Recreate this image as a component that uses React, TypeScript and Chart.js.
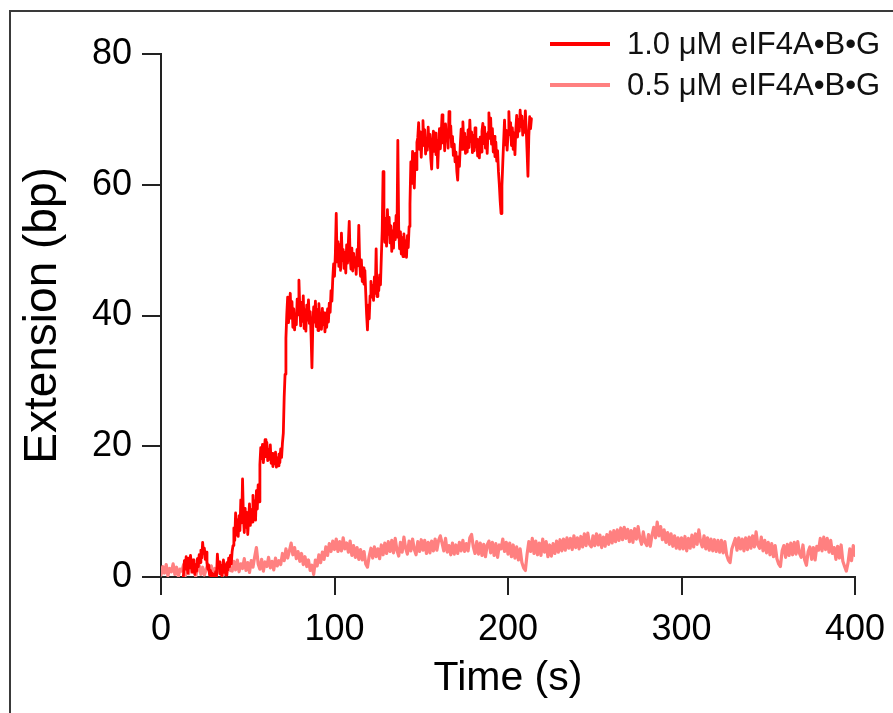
import { useEffect, useRef } from "react";
import { Chart, registerables } from "chart.js";

Chart.register(...registerables);

// ---------- data ----------
const X_TICKS = [0, 100, 200, 300, 400];
const Y_TICKS = [0, 20, 40, 60, 80];
const SERIES_LABELS = ["1.0 \u03bcM eIF4A\u2022B\u2022G", "0.5 \u03bcM eIF4A\u2022B\u2022G"];
const X_TITLE = "Time (s)";
const Y_TITLE = "Extension (bp)";

// 1.0 uM trace, sampled every 0.5 s
const RED_DT = 0.5;
const redRise = [
  -1.2, -0.8, -1.5, -1.0, -0.6, -1.3, -1.1, -0.7, -1.4, -0.9, -1.2, -0.6, -1.0, -1.5, -0.8, -1.1, -0.7, -1.3, -0.9, -1.2, -0.5, -1.0, -1.4, -0.8, -0.6, -1.1,
  0.5, 2.5, 1.2, 3.1, 1.8, 0.6, 2.9, 1.4, 3.3, 2.0, 0.8, 2.6, 1.5, 0.4, 1.9, 0.9, 2.8, 1.6, 3.4, 2.2, 4.1, 2.9, 5.3, 3.6, 4.4, 2.7, 3.8, 2.1, 1.2,
  1.8, 0.3, 1.0, -0.2, 0.6, -0.4, 0.4, -0.3, 0.8, 0.1,
  3.5, 1.4, 2.3, 0.5, 1.8, 0.2, 1.2, 2.6, 0.7, 1.9, 0.3, 2.2, 1.1, 2.9, 1.6, 3.3, 2.0, 3.9,
  4.8, 7.5, 5.6, 9.8, 6.4, 8.7,
  6.2, 9.4, 7.1, 11.8, 8.3, 15.0, 9.2, 6.8, 10.5, 7.6, 9.9, 6.5, 8.8, 11.2, 7.9, 10.3, 8.4, 12.5, 9.1, 11.6, 8.7, 13.2, 10.4, 14.1, 11.5,
];
const redStep20 = [
  17.2, 19.8, 18.1, 20.3, 17.5, 19.2, 21.0, 18.4, 20.6, 17.8, 19.5, 18.0, 20.2, 17.4, 18.9, 16.9, 18.6, 17.3, 19.1, 16.8, 18.2, 17.0, 18.8, 17.5, 19.6, 18.3, 20.5,
  22.0, 27.5, 31.0, 36.5, 40.2,
];
const redStep40 = [
  42.8, 38.9, 41.5, 43.4, 39.6, 42.1, 38.2, 41.0, 37.8, 40.3, 38.6, 42.5, 40.1, 45.4, 41.2, 38.4, 42.0, 39.1, 43.0, 38.0,
  40.8, 37.6, 41.6, 39.3, 42.4, 38.8, 40.6, 36.9, 32.0, 38.5, 41.3, 39.0, 42.2, 38.3, 40.9, 37.7, 41.8, 39.4, 40.2, 37.9,
  41.1, 38.6, 40.4, 37.5, 39.8, 38.2, 41.0, 39.0, 41.9, 40.5, 43.8, 42.2,
  45.6, 47.9, 46.0, 49.5, 55.6,
];
const redStep50 = [
  48.2, 51.3, 47.5, 50.8, 46.9, 52.6, 48.4, 50.1, 47.2, 49.6, 46.5, 50.8, 48.0, 51.2, 54.4, 49.0, 47.1, 50.3, 46.8, 49.5,
  47.4, 48.8, 46.3, 50.1, 47.6, 53.8, 48.2, 46.0, 48.5, 45.2, 47.3, 44.8, 46.9,
  43.5, 40.2, 37.8, 41.6, 39.5, 43.0,
  45.2, 42.8, 44.6, 42.3, 45.9, 43.4, 50.2, 42.9, 45.0, 43.8, 46.2, 44.7, 49.0,
  53.0, 62.0, 55.4, 51.2,
];
const redStep55 = [
  54.8, 50.6, 56.2, 52.4, 55.0, 51.1, 53.7, 49.8, 52.9, 50.3, 54.1, 51.6, 55.3, 52.0, 66.8, 53.5, 50.2, 52.8, 49.4, 51.9,
  49.0, 52.5, 49.7, 51.4, 48.9, 52.2, 50.4, 53.6,
  57.0, 63.5, 60.2, 65.1, 62.0, 59.5, 64.8, 62.3, 66.5,
];
const redPlateau = [
  67.2, 69.5, 65.4, 68.1, 64.2, 67.6, 69.8, 66.0, 68.4, 64.7,
  67.0, 65.3, 68.8, 65.9, 67.7, 64.0, 62.4, 66.3, 68.2, 65.1,
  67.9, 64.6, 66.8, 62.6, 66.0, 68.6, 65.5, 67.8, 70.7, 66.4,
  68.9, 65.2, 69.3, 66.7, 68.0, 65.6, 71.2, 67.3, 69.0, 65.8,
  67.4, 64.5, 66.2, 63.5, 65.0, 62.1, 60.7, 64.3, 62.8, 66.1,
  68.5, 65.4, 69.6, 66.3, 67.9, 64.8, 67.2, 65.0, 68.4, 65.7,
  69.9, 66.6, 68.1, 64.9, 67.5, 65.2, 68.7, 65.8, 67.0, 64.4,
  66.9, 64.1, 67.3, 65.0, 68.2, 69.4, 66.3, 68.8, 65.6, 67.7,
  64.8, 68.0, 71.0, 67.1, 70.2, 66.2, 68.6, 65.0, 67.4, 64.3,
  66.5, 63.6, 65.2, 62.0, 60.0, 57.5, 55.6, 59.8, 63.4, 66.7,
  69.9, 66.1, 68.3, 65.3, 67.6, 71.2, 67.8, 69.5, 66.0, 68.7,
  65.4, 67.9, 64.6, 68.4, 70.6, 67.3, 70.0, 68.2, 71.4, 68.9,
  70.5, 67.6, 69.7, 68.0, 71.3, 68.5, 65.0, 61.3, 67.4, 70.4,
  68.6, 70.1,
];
const RED_STARTS = [0, 57, 73, 101.5, 129.5, 148];

// 0.5 uM trace, sampled every 1 s
const PINK_DT = 1;
const pink0to99 = [
  0.3, 1.6, 0.6, 1.9, 0.2, 1.3, 0.8, 2.0, 0.4, 1.5, 0.1, 1.2, 0.9,
  1.9, 0.2, 1.4, 0.5, 2.1, 0.7, 1.6, 0.1, 1.2, 1.8, 0.4, 1.5, 0.3, 1.1, 2.0, 0.6, 1.7, 0.2, 1.3, 0.8, 1.9, 0.5, 1.4, 0.3, 1.6, 0.7, 2.2, 1.0,
  0.9, 2.4, 1.1, 2.6, 0.8, 2.0, 1.3, 2.8, 1.0, 2.2, 0.7, 2.5, 1.5, 3.1, 4.5, 2.0, 1.2, 2.7, 0.9, 2.3, 1.6, 3.0, 1.4, 2.4, 1.1, 2.9, 1.7, 2.5, 1.9,
  3.6, 2.5, 4.3, 2.9, 4.0, 5.2, 3.4,
  4.5, 2.8, 3.9, 2.4, 3.6, 1.9, 3.1, 1.6, 2.6, 1.0, 1.8, 0.4,
  2.6, 1.7, 3.4, 2.2, 3.8, 2.7, 4.6, 3.3, 5.1, 3.9, 5.5,
];
const pink100to199 = [
  4.2, 5.8, 3.9, 5.4, 4.0, 6.0, 4.3, 5.2, 3.8, 5.5,
  3.3, 4.8, 3.0, 4.5, 2.7, 4.2, 2.6, 3.9, 2.0, 1.5, 3.2, 4.4, 2.9, 4.6, 3.1, 4.3, 2.8, 4.9, 3.4,
  5.2, 3.6, 5.4, 3.9, 5.6, 3.7, 5.9, 4.1, 3.2, 5.3, 3.8, 6.1, 4.4, 3.5, 5.5, 4.0, 5.8, 4.2, 3.4, 5.4, 3.9, 5.7, 4.1, 5.6, 3.6,
  5.3, 3.7, 5.5, 4.0, 5.8, 4.1, 5.6, 6.3, 5.2, 4.0, 5.9, 3.8, 4.8, 3.4, 5.2, 3.5, 4.9, 3.6, 5.3, 4.0, 5.6, 3.9, 5.1,
  4.0, 6.0, 6.5, 4.6, 3.6, 5.4, 3.5, 5.2, 3.3, 5.0, 3.1, 4.9, 5.5, 3.7, 5.3, 3.3, 5.1, 3.0, 4.9,
  4.3, 5.8, 3.9, 5.3,
];
const pink200to299 = [
  3.5, 5.2, 3.1, 4.9, 2.9, 4.6, 2.6, 4.3, 2.2, 1.4, 1.0, 3.5,
  5.4, 3.9, 5.9, 3.6, 5.5, 3.4, 5.2, 3.3, 5.8, 3.8, 5.4, 3.1, 4.9, 3.2, 5.1, 3.6, 5.5, 3.8, 5.7, 4.0, 5.8, 4.1, 6.0, 4.4, 5.9, 4.2, 6.3, 4.5, 6.0, 4.3, 6.2, 4.6, 6.6, 4.8, 6.7, 5.0,
  4.6, 6.3, 4.8, 6.6, 4.9, 6.4, 4.5, 6.1, 4.7, 6.5, 5.0, 6.9, 5.2, 7.1, 5.4, 7.2, 5.6, 7.5, 5.7, 7.6, 5.9, 7.3, 5.4, 7.1, 5.3, 7.4, 5.8, 7.7, 5.9, 5.0, 6.9, 5.3, 4.8, 6.5, 4.7, 6.4, 7.6, 6.0, 8.4,
  6.3, 7.7, 5.7, 7.2, 5.3, 6.8, 5.0, 6.6, 4.7, 6.3, 4.4, 6.0, 4.3,
];
const pink300to400 = [
  6.0, 4.3, 6.2, 4.0, 5.9, 4.4, 6.4, 4.6, 6.6, 5.0, 7.2, 5.4, 4.6, 6.3, 4.3, 6.0, 4.1, 5.8, 4.0, 5.7, 3.9, 5.6, 3.8, 5.6, 3.7, 5.4, 3.4, 2.6, 2.2, 4.3, 5.1,
  5.9, 4.1, 6.0, 4.3, 5.8, 4.0, 6.0, 4.2, 6.1, 4.4, 6.3, 4.6, 6.9, 4.9, 4.4, 6.1, 4.0, 5.6, 3.7,
  5.3, 3.4, 5.1, 3.1, 4.8, 2.8, 2.0, 1.6, 4.0, 4.8, 3.0, 5.0, 3.3,
  5.2, 3.4, 5.3, 3.5, 5.4, 3.6, 3.0, 4.9, 2.6, 1.8, 3.9, 4.6, 2.7, 4.5, 2.6, 4.7,
  4.1, 5.9, 4.0, 6.1, 4.2, 5.9, 3.8, 5.6, 3.6,
  4.5, 2.7, 4.7, 2.9, 4.9, 2.4, 1.6, 0.9, 2.2, 4.3, 2.5, 4.8, 3.3,
];
const PINK_STARTS = [0, 100, 200, 300];

const RED_SEGMENTS = [redRise, redStep20, redStep40, redStep50, redStep55, redPlateau];
const PINK_SEGMENTS = [pink0to99, pink100to199, pink200to299, pink300to400];

function toPoints(segments: number[][], starts: number[], dt: number) {
  const pts: { x: number; y: number }[] = [];
  segments.forEach((vals, s) => {
    vals.forEach((v, i) => pts.push({ x: starts[s] + i * dt, y: v }));
  });
  return pts;
}

// ---------- styling ----------
const FONT = "'Liberation Sans', Arial, Helvetica, sans-serif";
const AXIS_COLOR = "#222222";
const RED = "#ff0000";
const PINK = "#ff8080";

const framePlugin = {
  id: "frame",
  beforeDraw(chart: any) {
    const ctx = chart.ctx;
    ctx.save();
    ctx.fillStyle = "#ffffff";
    ctx.fillRect(0, 0, chart.width, chart.height);
    ctx.strokeStyle = "#3a3a3a";
    ctx.lineWidth = 2;
    ctx.strokeRect(10, 11, 1000, 1000);
    ctx.restore();
  },
};

const legendPlugin = {
  id: "insideLegend",
  afterDraw(chart: any) {
    const ctx = chart.ctx;
    ctx.save();
    chart.data.datasets.forEach((ds: any, i: number) => {
      const y = 44 + i * 41;
      ctx.strokeStyle = ds.borderColor;
      ctx.lineWidth = 4;
      ctx.beginPath();
      ctx.moveTo(550, y);
      ctx.lineTo(610, y);
      ctx.stroke();
      ctx.fillStyle = "#111111";
      ctx.font = `31px ${FONT}`;
      ctx.textAlign = "left";
      ctx.textBaseline = "middle";
      ctx.fillText(ds.label, 627, y + 1);
    });
    ctx.restore();
  },
};

export default function App() {
  const canvasRef = useRef<HTMLCanvasElement | null>(null);

  useEffect(() => {
    if (!canvasRef.current) return;
    Chart.defaults.font.family = FONT;
    const chart = new Chart(canvasRef.current, {
      type: "line",
      data: {
        datasets: [
          {
            label: SERIES_LABELS[0],
            data: toPoints(RED_SEGMENTS, RED_STARTS, RED_DT),
            borderColor: RED,
            backgroundColor: RED,
            borderWidth: 2.8,
            pointRadius: 0,
            tension: 0,
            borderJoinStyle: "round",
            borderCapStyle: "round",
          },
          {
            label: SERIES_LABELS[1],
            data: toPoints(PINK_SEGMENTS, PINK_STARTS, PINK_DT),
            borderColor: PINK,
            backgroundColor: PINK,
            borderWidth: 3.2,
            pointRadius: 0,
            tension: 0,
            borderJoinStyle: "round",
            borderCapStyle: "round",
          },
        ],
      },
      options: {
        responsive: false,
        animation: false,
        events: [],
        layout: { padding: { top: 54, right: 38, left: 0, bottom: 0 } },
        plugins: {
          legend: { display: false },
          tooltip: { enabled: false },
        },
        scales: {
          x: {
            type: "linear",
            min: 0,
            max: 400,
            afterBuildTicks: (s: any) => {
              s.ticks = X_TICKS.map((v) => ({ value: v }));
            },
            afterFit: (s: any) => {
              s.height = 136;
              s.paddingLeft = 0;
              s.paddingRight = 0;
            },
            ticks: {
              font: { size: 36 },
              color: "#000000",
              padding: 13,
              maxRotation: 0,
              autoSkip: false,
            },
            grid: {
              drawOnChartArea: false,
              drawTicks: true,
              tickLength: 18,
              tickColor: AXIS_COLOR,
              lineWidth: 2,
            },
            border: { color: AXIS_COLOR, width: 2 },
            title: {
              display: true,
              text: X_TITLE,
              color: "#000000",
              font: { size: 41 },
              padding: { top: 0, bottom: 10 },
            },
          },
          y: {
            type: "linear",
            min: 0,
            max: 80,
            afterBuildTicks: (s: any) => {
              s.ticks = Y_TICKS.map((v) => ({ value: v }));
            },
            afterFit: (s: any) => {
              s.width = 161;
              s.paddingTop = 0;
              s.paddingBottom = 0;
            },
            ticks: {
              font: { size: 36 },
              color: "#000000",
              padding: 10,
              autoSkip: false,
            },
            grid: {
              drawOnChartArea: false,
              drawTicks: true,
              tickLength: 19,
              tickColor: AXIS_COLOR,
              lineWidth: 2,
            },
            border: { color: AXIS_COLOR, width: 2 },
            title: {
              display: true,
              text: Y_TITLE,
              color: "#000000",
              font: { size: 46 },
              padding: { top: 16, bottom: 0 },
            },
          },
        },
      },
      plugins: [framePlugin, legendPlugin],
    } as any);
    return () => chart.destroy();
  }, []);

  return (
    <div style={{ position: "absolute", left: 0, top: 0, width: 893, height: 713, background: "#ffffff", overflow: "hidden" }}>
      <canvas ref={canvasRef} width={893} height={713} style={{ display: "block", width: 893, height: 713 }} />
    </div>
  );
}
